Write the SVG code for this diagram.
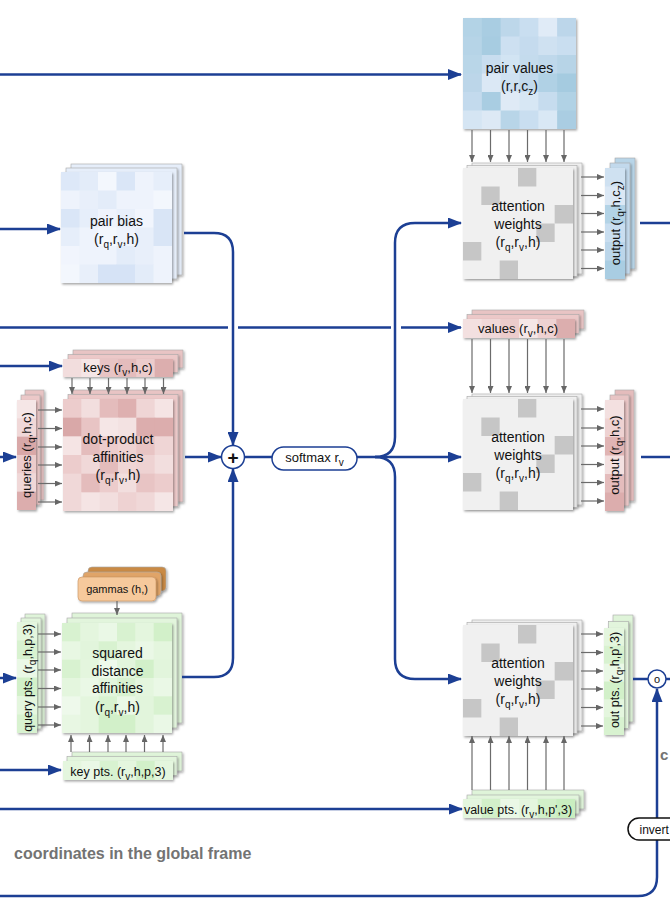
<svg xmlns="http://www.w3.org/2000/svg" width="670" height="906" viewBox="0 0 670 906">
<style>
.t{font-family:"Liberation Sans",Arial,sans-serif;fill:#111;text-anchor:middle}
.s{font-size:10px}
.bl{fill:none;stroke:#1c3f94;stroke-width:2.5;marker-end:url(#ba)}
.bn{fill:none;stroke:#1c3f94;stroke-width:2.5}
.ga{stroke:#6b6b6b;stroke-width:1.2;marker-end:url(#ga)}
.bk{stroke:#a8a8a8;stroke-width:0.6;filter:url(#sh)}
.fr{filter:url(#sh)}
</style>
<defs>
<marker id="ba" viewBox="0 0 14 11" refX="13" refY="5.5" markerWidth="14" markerHeight="11" markerUnits="userSpaceOnUse" orient="auto"><path d="M0,0L14,5.5L0,11z" fill="#1c3f94"/></marker>
<marker id="ga" viewBox="0 0 7 6" refX="7" refY="3" markerWidth="7" markerHeight="6" markerUnits="userSpaceOnUse" orient="auto"><path d="M0,0L7,3L0,6z" fill="#666"/></marker>
<filter id="sh" x="-30%" y="-30%" width="160%" height="160%"><feDropShadow dx="1.2" dy="1.5" stdDeviation="1.2" flood-color="#000" flood-opacity="0.35"/></filter>
<g id="aw">
<rect class="bk" x="9" y="-5" width="110" height="111" fill="#f0f0f0"/>
<rect class="bk" x="4" y="-2.5" width="110" height="111" fill="#f0f0f0"/>
<rect class="fr" x="0" y="0" width="110" height="111" fill="#f0f0f0"/>
<g transform="scale(18.333,18.5)" fill="#c6c6c6"><rect x="3" y="0" width="1" height="1"/><rect x="1" y="1" width="1" height="1"/><rect x="5" y="2" width="1" height="1"/><rect x="4" y="3" width="1" height="1"/><rect x="0" y="4" width="1" height="1"/><rect x="2" y="5" width="1" height="1"/></g>
</g>
</defs>
<rect width="670" height="906" fill="#fff"/>

<g id="pair-values">
<rect class="fr" x="463" y="18" width="113" height="111" fill="#c6dced"/>
<g transform="translate(463,18) scale(18.833,18.5)">
<rect x="0" y="0" width="1.03" height="1.03" fill="#b3d3e6"/><rect x="1" y="0" width="1.03" height="1.03" fill="#a9cde2"/><rect x="2" y="0" width="1.03" height="1.03" fill="#bdd7ea"/><rect x="3" y="0" width="1.03" height="1.03" fill="#c9def0"/><rect x="4" y="0" width="1.03" height="1.03" fill="#e0ebf7"/><rect x="5" y="0" width="1" height="1.03" fill="#bcd6ea"/>
<rect x="0" y="1" width="1.03" height="1.03" fill="#b6d4e7"/><rect x="1" y="1" width="1.03" height="1.03" fill="#a7cce1"/><rect x="2" y="1" width="1.03" height="1.03" fill="#cde0f1"/><rect x="3" y="1" width="1.03" height="1.03" fill="#c5dbee"/><rect x="4" y="1" width="1.03" height="1.03" fill="#cfe1f1"/><rect x="5" y="1" width="1" height="1.03" fill="#c9def0"/>
<rect x="0" y="2" width="1.03" height="1.03" fill="#b9d6e8"/><rect x="1" y="2" width="1.03" height="1.03" fill="#c8ddef"/><rect x="2" y="2" width="1.03" height="1.03" fill="#d2e4f3"/><rect x="3" y="2" width="1.03" height="1.03" fill="#c4dbed"/><rect x="4" y="2" width="1.03" height="1.03" fill="#bfd8eb"/><rect x="5" y="2" width="1" height="1.03" fill="#b7d4e7"/>
<rect x="0" y="3" width="1.03" height="1.03" fill="#bcd6e9"/><rect x="1" y="3" width="1.03" height="1.03" fill="#dbe8f5"/><rect x="2" y="3" width="1.03" height="1.03" fill="#cfe1f1"/><rect x="3" y="3" width="1.03" height="1.03" fill="#c2d9ec"/><rect x="4" y="3" width="1.03" height="1.03" fill="#b0d1e5"/><rect x="5" y="3" width="1" height="1.03" fill="#a5cbe0"/>
<rect x="0" y="4" width="1.03" height="1.03" fill="#c3daed"/><rect x="1" y="4" width="1.03" height="1.03" fill="#a9cde2"/><rect x="2" y="4" width="1.03" height="1.03" fill="#dfeaf6"/><rect x="3" y="4" width="1.03" height="1.03" fill="#d7e7f4"/><rect x="4" y="4" width="1.03" height="1.03" fill="#c6dcee"/><rect x="5" y="4" width="1" height="1.03" fill="#b1d2e5"/>
<rect x="0" y="5" width="1.03" height="1" fill="#d5e5f3"/><rect x="1" y="5" width="1.03" height="1" fill="#dde9f5"/><rect x="2" y="5" width="1.03" height="1" fill="#b8d5e8"/><rect x="3" y="5" width="1.03" height="1" fill="#c9def0"/><rect x="4" y="5" width="1.03" height="1" fill="#d9e8f5"/><rect x="5" y="5" width="1" height="1" fill="#aacde2"/>
</g>
<text class="t" font-size="14" x="519.5" y="72.5">pair values</text>
<text class="t" font-size="14" x="519.5" y="90.5">(r,r,c<tspan class="s" dy="4">z</tspan><tspan dy="-4">)</tspan></text>
</g>

<g id="pair-bias">
<rect class="bk" x="71" y="164" width="111" height="111" fill="#e6eefa"/>
<rect class="bk" x="66" y="168" width="111" height="111" fill="#e6eefa"/>
<rect class="fr" x="61" y="172" width="111" height="111" fill="#e8effa"/>
<g transform="translate(61,172) scale(18.5,18.5)">
<rect x="0" y="0" width="1.03" height="1.03" fill="#dde8f8"/><rect x="1" y="0" width="1.03" height="1.03" fill="#e3ecf9"/><rect x="2" y="0" width="1.03" height="1.03" fill="#f3f7fd"/><rect x="3" y="0" width="1.03" height="1.03" fill="#dae6f7"/><rect x="4" y="0" width="1.03" height="1.03" fill="#eef3fc"/><rect x="5" y="0" width="1" height="1.03" fill="#e6eefa"/>
<rect x="0" y="1" width="1.03" height="1.03" fill="#eef3fc"/><rect x="1" y="1" width="1.03" height="1.03" fill="#e8effa"/><rect x="2" y="1" width="1.03" height="1.03" fill="#e3ecf9"/><rect x="3" y="1" width="1.03" height="1.03" fill="#eef3fc"/><rect x="4" y="1" width="1.03" height="1.03" fill="#eef3fc"/><rect x="5" y="1" width="1" height="1.03" fill="#f3f7fd"/>
<rect x="0" y="2" width="1.03" height="1.03" fill="#dae6f7"/><rect x="1" y="2" width="1.03" height="1.03" fill="#e6eefa"/><rect x="2" y="2" width="1.03" height="1.03" fill="#eef3fc"/><rect x="3" y="2" width="1.03" height="1.03" fill="#e8effa"/><rect x="4" y="2" width="1.03" height="1.03" fill="#f1f5fd"/><rect x="5" y="2" width="1" height="1.03" fill="#d9e5f6"/>
<rect x="0" y="3" width="1.03" height="1.03" fill="#e6eefa"/><rect x="1" y="3" width="1.03" height="1.03" fill="#eef3fc"/><rect x="2" y="3" width="1.03" height="1.03" fill="#f3f7fd"/><rect x="3" y="3" width="1.03" height="1.03" fill="#eef3fc"/><rect x="4" y="3" width="1.03" height="1.03" fill="#e8effa"/><rect x="5" y="3" width="1" height="1.03" fill="#d9e5f6"/>
<rect x="0" y="4" width="1.03" height="1.03" fill="#f1f5fd"/><rect x="1" y="4" width="1.03" height="1.03" fill="#eef3fc"/><rect x="2" y="4" width="1.03" height="1.03" fill="#eef3fc"/><rect x="3" y="4" width="1.03" height="1.03" fill="#e3ecf9"/><rect x="4" y="4" width="1.03" height="1.03" fill="#e8effa"/><rect x="5" y="4" width="1" height="1.03" fill="#eef3fc"/>
<rect x="0" y="5" width="1.03" height="1" fill="#f3f7fd"/><rect x="1" y="5" width="1.03" height="1" fill="#e8effa"/><rect x="2" y="5" width="1.03" height="1" fill="#d6e3f6"/><rect x="3" y="5" width="1.03" height="1" fill="#d6e3f6"/><rect x="4" y="5" width="1.03" height="1" fill="#e3ecf9"/><rect x="5" y="5" width="1" height="1" fill="#eef3fc"/>
</g>
<text class="t" font-size="14" x="116.5" y="226">pair bias</text>
<text class="t" font-size="14" x="116.5" y="244">(r<tspan class="s" dy="4">q</tspan><tspan dy="-4">,r</tspan><tspan class="s" dy="4">v</tspan><tspan dy="-4">,h)</tspan></text>
</g>

<g id="keys">
<rect class="bk" x="73" y="350" width="110" height="18" fill="#e8c4c4"/>
<rect class="bk" x="68" y="354.5" width="110" height="18" fill="#ecc8c8"/>
<rect class="fr" x="63" y="359" width="110" height="18" fill="#f0d8d8"/>
<g transform="translate(63,359) scale(18.333,18)">
<rect x="0" y="0" width="1.03" height="1" fill="#f2dddd"/><rect x="1" y="0" width="1.03" height="1" fill="#f5e6e6"/><rect x="2" y="0" width="1.03" height="1" fill="#e8c4c4"/><rect x="3" y="0" width="1.03" height="1" fill="#e4bcbc"/><rect x="4" y="0" width="1.03" height="1" fill="#eccccc"/><rect x="5" y="0" width="1" height="1" fill="#dcaeae"/>
</g>
<text class="t" font-size="13" x="118" y="371.5">keys (r<tspan class="s" dy="4">v</tspan><tspan dy="-4">,h,c)</tspan></text>
</g>

<g id="dot-product-affinities">
<rect class="bk" x="73" y="390" width="110" height="112" fill="#e8c4c4"/>
<rect class="bk" x="68" y="394.5" width="110" height="112" fill="#ecc8c8"/>
<rect class="fr" x="63" y="399" width="110" height="112" fill="#eccccc"/>
<g transform="translate(63,399) scale(18.333,18.667)">
<rect x="0" y="0" width="1.03" height="1.03" fill="#eccccc"/><rect x="1" y="0" width="1.03" height="1.03" fill="#f2dede"/><rect x="2" y="0" width="1.03" height="1.03" fill="#e4bcbc"/><rect x="3" y="0" width="1.03" height="1.03" fill="#deb0b0"/><rect x="4" y="0" width="1.03" height="1.03" fill="#efd5d5"/><rect x="5" y="0" width="1" height="1.03" fill="#f5e4e4"/>
<rect x="0" y="1" width="1.03" height="1.03" fill="#d9a8a8"/><rect x="1" y="1" width="1.03" height="1.03" fill="#e8c4c4"/><rect x="2" y="1" width="1.03" height="1.03" fill="#f5e6e6"/><rect x="3" y="1" width="1.03" height="1.03" fill="#f3e2e2"/><rect x="4" y="1" width="1.03" height="1.03" fill="#dcadad"/><rect x="5" y="1" width="1" height="1.03" fill="#dcadad"/>
<rect x="0" y="2" width="1.03" height="1.03" fill="#f5e4e4"/><rect x="1" y="2" width="1.03" height="1.03" fill="#e4bcbc"/><rect x="2" y="2" width="1.03" height="1.03" fill="#eccccc"/><rect x="3" y="2" width="1.03" height="1.03" fill="#eed2d2"/><rect x="4" y="2" width="1.03" height="1.03" fill="#e8c4c4"/><rect x="5" y="2" width="1" height="1.03" fill="#efd5d5"/>
<rect x="0" y="3" width="1.03" height="1.03" fill="#eccccc"/><rect x="1" y="3" width="1.03" height="1.03" fill="#f0d8d8"/><rect x="2" y="3" width="1.03" height="1.03" fill="#e4bcbc"/><rect x="3" y="3" width="1.03" height="1.03" fill="#efd5d5"/><rect x="4" y="3" width="1.03" height="1.03" fill="#eed2d2"/><rect x="5" y="3" width="1" height="1.03" fill="#f2dede"/>
<rect x="0" y="4" width="1.03" height="1.03" fill="#f0d8d8"/><rect x="1" y="4" width="1.03" height="1.03" fill="#e4bcbc"/><rect x="2" y="4" width="1.03" height="1.03" fill="#eccccc"/><rect x="3" y="4" width="1.03" height="1.03" fill="#f2dede"/><rect x="4" y="4" width="1.03" height="1.03" fill="#e8c4c4"/><rect x="5" y="4" width="1" height="1.03" fill="#eccccc"/>
<rect x="0" y="5" width="1.03" height="1" fill="#f0d8d8"/><rect x="1" y="5" width="1.03" height="1" fill="#f5e4e4"/><rect x="2" y="5" width="1.03" height="1" fill="#f2dede"/><rect x="3" y="5" width="1.03" height="1" fill="#eed2d2"/><rect x="4" y="5" width="1.03" height="1" fill="#f0d8d8"/><rect x="5" y="5" width="1" height="1" fill="#f5e6e6"/>
</g>
<text class="t" font-size="14" x="118" y="444">dot-product</text>
<text class="t" font-size="14" x="118" y="462">affinities</text>
<text class="t" font-size="14" x="118" y="480">(r<tspan class="s" dy="4">q</tspan><tspan dy="-4">,r</tspan><tspan class="s" dy="4">v</tspan><tspan dy="-4">,h)</tspan></text>
</g>

<g id="queries">
<rect class="bk" x="25" y="390" width="19" height="110" fill="#e8c4c4"/>
<rect class="bk" x="21" y="395" width="19" height="110" fill="#ecc8c8"/>
<rect class="fr" x="17" y="400" width="19" height="110" fill="#f0d8d8"/>
<g transform="translate(17,400) scale(19,18.333)">
<rect x="0" y="0" width="1" height="1.03" fill="#f5e6e6"/><rect x="0" y="1" width="1" height="1.03" fill="#f0d8d8"/><rect x="0" y="2" width="1" height="1.03" fill="#d9a8a8"/><rect x="0" y="3" width="1" height="1.03" fill="#eccccc"/><rect x="0" y="4" width="1" height="1.03" fill="#f0d8d8"/><rect x="0" y="5" width="1" height="1" fill="#dcadad"/>
</g>
<text class="t" font-size="13" transform="translate(26.5,455) rotate(-90)" y="4.5">queries (r<tspan class="s" dy="4">q</tspan><tspan dy="-4">,h,c)</tspan></text>
</g>

<g id="gammas">
<rect class="bk" x="88" y="567" width="78" height="24" rx="4" fill="#c98a45"/>
<rect class="bk" x="83" y="572" width="78" height="24" rx="4" fill="#e0a468"/>
<rect class="fr" x="78" y="577" width="78" height="24" rx="4" fill="#f6c99c" stroke="#c89060" stroke-width="0.6"/>
<text class="t" font-size="11" x="117" y="593">gammas (h,)</text>
</g>

<g id="squared-distance-affinities">
<rect class="bk" x="72" y="613" width="110" height="110" fill="#dff4d9"/>
<rect class="bk" x="67" y="618" width="110" height="110" fill="#e2f5dc"/>
<rect class="fr" x="62" y="623" width="110" height="110" fill="#e4f6de"/>
<g transform="translate(62,623) scale(18.333,18.333)">
<rect x="0" y="0" width="1.03" height="1.03" fill="#d8f2d0"/><rect x="1" y="0" width="1.03" height="1.03" fill="#e4f6de"/><rect x="2" y="0" width="1.03" height="1.03" fill="#eaf8e6"/><rect x="3" y="0" width="1.03" height="1.03" fill="#d8f2d0"/><rect x="4" y="0" width="1.03" height="1.03" fill="#e4f6de"/><rect x="5" y="0" width="1" height="1.03" fill="#d2f0c9"/>
<rect x="0" y="1" width="1.03" height="1.03" fill="#e8f7e3"/><rect x="1" y="1" width="1.03" height="1.03" fill="#e2f5dc"/><rect x="2" y="1" width="1.03" height="1.03" fill="#d8f2d0"/><rect x="3" y="1" width="1.03" height="1.03" fill="#e4f6de"/><rect x="4" y="1" width="1.03" height="1.03" fill="#eaf8e6"/><rect x="5" y="1" width="1" height="1.03" fill="#e4f6de"/>
<rect x="0" y="2" width="1.03" height="1.03" fill="#d8f2d0"/><rect x="1" y="2" width="1.03" height="1.03" fill="#e4f6de"/><rect x="2" y="2" width="1.03" height="1.03" fill="#eef9eb"/><rect x="3" y="2" width="1.03" height="1.03" fill="#e2f5dc"/><rect x="4" y="2" width="1.03" height="1.03" fill="#d2f0c9"/><rect x="5" y="2" width="1" height="1.03" fill="#e2f5dc"/>
<rect x="0" y="3" width="1.03" height="1.03" fill="#e4f6de"/><rect x="1" y="3" width="1.03" height="1.03" fill="#eaf8e6"/><rect x="2" y="3" width="1.03" height="1.03" fill="#e2f5dc"/><rect x="3" y="3" width="1.03" height="1.03" fill="#d8f2d0"/><rect x="4" y="3" width="1.03" height="1.03" fill="#e4f6de"/><rect x="5" y="3" width="1" height="1.03" fill="#eaf8e6"/>
<rect x="0" y="4" width="1.03" height="1.03" fill="#eef9eb"/><rect x="1" y="4" width="1.03" height="1.03" fill="#e4f6de"/><rect x="2" y="4" width="1.03" height="1.03" fill="#d8f2d0"/><rect x="3" y="4" width="1.03" height="1.03" fill="#eaf8e6"/><rect x="4" y="4" width="1.03" height="1.03" fill="#e2f5dc"/><rect x="5" y="4" width="1" height="1.03" fill="#d8f2d0"/>
<rect x="0" y="5" width="1.03" height="1" fill="#e8f7e3"/><rect x="1" y="5" width="1.03" height="1" fill="#e4f6de"/><rect x="2" y="5" width="1.03" height="1" fill="#d2f0c9"/><rect x="3" y="5" width="1.03" height="1" fill="#d2f0c9"/><rect x="4" y="5" width="1.03" height="1" fill="#e2f5dc"/><rect x="5" y="5" width="1" height="1" fill="#eaf8e6"/>
</g>
<text class="t" font-size="14" x="117.5" y="658">squared</text>
<text class="t" font-size="14" x="117.5" y="675.5">distance</text>
<text class="t" font-size="14" x="117.5" y="693">affinities</text>
<text class="t" font-size="14" x="117.5" y="711.5">(r<tspan class="s" dy="4">q</tspan><tspan dy="-4">,r</tspan><tspan class="s" dy="4">v</tspan><tspan dy="-4">,h)</tspan></text>
</g>

<g id="query-pts">
<rect class="bk" x="25" y="614" width="20" height="111" fill="#dff4d9"/>
<rect class="bk" x="21" y="618" width="20" height="111" fill="#e2f5dc"/>
<rect class="fr" x="17" y="622" width="20" height="111" fill="#e4f6de"/>
<g transform="translate(17,622) scale(20,18.5)">
<rect x="0" y="0" width="1" height="1.03" fill="#e4f6de"/><rect x="0" y="1" width="1" height="1.03" fill="#d8f2d0"/><rect x="0" y="2" width="1" height="1.03" fill="#eaf8e6"/><rect x="0" y="3" width="1" height="1.03" fill="#d2f0c9"/><rect x="0" y="4" width="1" height="1.03" fill="#e4f6de"/><rect x="0" y="5" width="1" height="1" fill="#d8f2d0"/>
</g>
<text class="t" font-size="12.5" transform="translate(27,678) rotate(-90)" y="4.5">query pts. (r<tspan class="s" dy="4">q</tspan><tspan dy="-4">,h,p,3)</tspan></text>
</g>

<g id="key-pts">
<rect class="bk" x="72" y="752" width="110" height="19" fill="#dff4d9"/>
<rect class="bk" x="67" y="756.5" width="110" height="19" fill="#e2f5dc"/>
<rect class="fr" x="63" y="761" width="110" height="19" fill="#e4f6de"/>
<g transform="translate(63,761) scale(18.333,19)">
<rect x="0" y="0" width="1.03" height="1" fill="#e4f6de"/><rect x="1" y="0" width="1.03" height="1" fill="#eaf8e6"/><rect x="2" y="0" width="1.03" height="1" fill="#d8f2d0"/><rect x="3" y="0" width="1.03" height="1" fill="#e4f6de"/><rect x="4" y="0" width="1.03" height="1" fill="#d2f0c9"/><rect x="5" y="0" width="1" height="1" fill="#e4f6de"/>
</g>
<text class="t" font-size="12.5" x="118" y="775.5">key pts. (r<tspan class="s" dy="4">v</tspan><tspan dy="-4">,h,p,3)</tspan></text>
</g>

<g id="attention-weights-1">
<use href="#aw" x="463" y="168"/>
<text class="t" font-size="14" x="518" y="211">attention</text>
<text class="t" font-size="14" x="518" y="229">weights</text>
<text class="t" font-size="14" x="518" y="247">(r<tspan class="s" dy="4">q</tspan><tspan dy="-4">,r</tspan><tspan class="s" dy="4">v</tspan><tspan dy="-4">,h)</tspan></text>
</g>

<g id="attention-weights-2">
<use href="#aw" x="463" y="399"/>
<text class="t" font-size="14" x="518" y="442">attention</text>
<text class="t" font-size="14" x="518" y="460">weights</text>
<text class="t" font-size="14" x="518" y="478">(r<tspan class="s" dy="4">q</tspan><tspan dy="-4">,r</tspan><tspan class="s" dy="4">v</tspan><tspan dy="-4">,h)</tspan></text>
</g>

<g id="attention-weights-3">
<use href="#aw" x="463" y="625"/>
<text class="t" font-size="14" x="518" y="668">attention</text>
<text class="t" font-size="14" x="518" y="686">weights</text>
<text class="t" font-size="14" x="518" y="704">(r<tspan class="s" dy="4">q</tspan><tspan dy="-4">,r</tspan><tspan class="s" dy="4">v</tspan><tspan dy="-4">,h)</tspan></text>
</g>

<g id="output-pair">
<rect class="bk" x="615" y="158" width="20" height="111" fill="#b8d5e8"/>
<rect class="bk" x="610" y="163" width="20" height="111" fill="#c2d9ec"/>
<rect class="fr" x="605" y="168" width="20" height="111" fill="#c6dced"/>
<g transform="translate(605,168) scale(20,18.5)">
<rect x="0" y="0" width="1" height="1.03" fill="#cfe1f1"/><rect x="0" y="1" width="1" height="1.03" fill="#dbe8f5"/><rect x="0" y="2" width="1" height="1.03" fill="#b3d3e6"/><rect x="0" y="3" width="1" height="1.03" fill="#c9def0"/><rect x="0" y="4" width="1" height="1.03" fill="#bcd6ea"/><rect x="0" y="5" width="1" height="1" fill="#a9cde2"/>
</g>
<text class="t" font-size="13" transform="translate(615,223) rotate(-90)" y="4.5">output (r<tspan class="s" dy="4">q</tspan><tspan dy="-4">,h,c</tspan><tspan class="s" dy="4">z</tspan><tspan dy="-4">)</tspan></text>
</g>

<g id="values">
<rect class="bk" x="472" y="310" width="112" height="19" fill="#e8c4c4"/>
<rect class="bk" x="467" y="314.5" width="112" height="19" fill="#ecc8c8"/>
<rect class="fr" x="463" y="319" width="112" height="19" fill="#f0d8d8"/>
<g transform="translate(463,319) scale(18.667,19)">
<rect x="0" y="0" width="1.03" height="1" fill="#f3e0e0"/><rect x="1" y="0" width="1.03" height="1" fill="#f0d8d8"/><rect x="2" y="0" width="1.03" height="1" fill="#eccccc"/><rect x="3" y="0" width="1.03" height="1" fill="#f5e6e6"/><rect x="4" y="0" width="1.03" height="1" fill="#eed2d2"/><rect x="5" y="0" width="1" height="1" fill="#dcaeae"/>
</g>
<text class="t" font-size="13" x="518" y="332.5">values (r<tspan class="s" dy="4">v</tspan><tspan dy="-4">,h,c)</tspan></text>
</g>

<g id="output-single">
<rect class="bk" x="615" y="390" width="19" height="111" fill="#e4bcbc"/>
<rect class="bk" x="610" y="395" width="19" height="111" fill="#e8c4c4"/>
<rect class="fr" x="605" y="400" width="19" height="111" fill="#eccccc"/>
<g transform="translate(605,400) scale(19,18.5)">
<rect x="0" y="0" width="1" height="1.03" fill="#f3e0e0"/><rect x="0" y="1" width="1" height="1.03" fill="#eed2d2"/><rect x="0" y="2" width="1" height="1.03" fill="#e0b4b4"/><rect x="0" y="3" width="1" height="1.03" fill="#f3e0e0"/><rect x="0" y="4" width="1" height="1.03" fill="#e4bcbc"/><rect x="0" y="5" width="1" height="1" fill="#dcadad"/>
</g>
<text class="t" font-size="13" transform="translate(614.5,455) rotate(-90)" y="4.5">output (r<tspan class="s" dy="4">q</tspan><tspan dy="-4">,h,c)</tspan></text>
</g>

<g id="out-pts">
<rect class="bk" x="613" y="615" width="20" height="107" fill="#dff4d9"/>
<rect class="bk" x="608.5" y="621.5" width="20" height="107" fill="#e2f5dc"/>
<rect class="fr" x="604" y="628" width="20" height="107" fill="#e4f6de"/>
<g transform="translate(604,628) scale(20,17.833)">
<rect x="0" y="0" width="1" height="1.03" fill="#e4f6de"/><rect x="0" y="1" width="1" height="1.03" fill="#d8f2d0"/><rect x="0" y="2" width="1" height="1.03" fill="#eaf8e6"/><rect x="0" y="3" width="1" height="1.03" fill="#d2f0c9"/><rect x="0" y="4" width="1" height="1.03" fill="#e4f6de"/><rect x="0" y="5" width="1" height="1" fill="#d8f2d0"/>
</g>
<text class="t" font-size="12.5" transform="translate(614,680) rotate(-90)" y="4.5">out pts. (r<tspan class="s" dy="4">q</tspan><tspan dy="-4">,h,p',3)</tspan></text>
</g>

<g id="value-pts">
<rect class="bk" x="472" y="790" width="112" height="19" fill="#dff4d9"/>
<rect class="bk" x="467" y="795" width="112" height="19" fill="#e2f5dc"/>
<rect class="fr" x="463" y="799" width="112" height="19" fill="#e4f6de"/>
<g transform="translate(463,799) scale(18.667,19)">
<rect x="0" y="0" width="1.03" height="1" fill="#e4f6de"/><rect x="1" y="0" width="1.03" height="1" fill="#d2f0c9"/><rect x="2" y="0" width="1.03" height="1" fill="#eaf8e6"/><rect x="3" y="0" width="1.03" height="1" fill="#e4f6de"/><rect x="4" y="0" width="1.03" height="1" fill="#d2f0c9"/><rect x="5" y="0" width="1" height="1" fill="#c9eec0"/>
</g>
<text class="t" font-size="12.5" x="518" y="813.5">value pts. (r<tspan class="s" dy="4">v</tspan><tspan dy="-4">,h,p',3)</tspan></text>
</g>

<g id="connectors">
<g>
<line class="ga" x1="472" y1="130" x2="472" y2="162"/><line class="ga" x1="490.5" y1="130" x2="490.5" y2="162"/><line class="ga" x1="509" y1="130" x2="509" y2="162"/><line class="ga" x1="527.5" y1="130" x2="527.5" y2="162"/><line class="ga" x1="546" y1="130" x2="546" y2="162"/><line class="ga" x1="564" y1="130" x2="564" y2="162"/>
<line class="ga" x1="472" y1="339" x2="472" y2="393"/><line class="ga" x1="490.5" y1="339" x2="490.5" y2="393"/><line class="ga" x1="509" y1="339" x2="509" y2="393"/><line class="ga" x1="527.5" y1="339" x2="527.5" y2="393"/><line class="ga" x1="546" y1="339" x2="546" y2="393"/><line class="ga" x1="564" y1="339" x2="564" y2="393"/>
<line class="ga" x1="472" y1="790" x2="472" y2="736"/><line class="ga" x1="490.5" y1="790" x2="490.5" y2="736"/><line class="ga" x1="509" y1="790" x2="509" y2="736"/><line class="ga" x1="527.5" y1="790" x2="527.5" y2="736"/><line class="ga" x1="546" y1="790" x2="546" y2="736"/><line class="ga" x1="564" y1="790" x2="564" y2="736"/>
<line class="ga" x1="72" y1="378" x2="72" y2="394"/><line class="ga" x1="90" y1="378" x2="90" y2="394"/><line class="ga" x1="108.5" y1="378" x2="108.5" y2="394"/><line class="ga" x1="127" y1="378" x2="127" y2="394"/><line class="ga" x1="145" y1="378" x2="145" y2="394"/><line class="ga" x1="163.5" y1="378" x2="163.5" y2="394"/>
<line class="ga" x1="71" y1="752" x2="71" y2="735"/><line class="ga" x1="89.5" y1="752" x2="89.5" y2="735"/><line class="ga" x1="108" y1="752" x2="108" y2="735"/><line class="ga" x1="126" y1="752" x2="126" y2="735"/><line class="ga" x1="144.5" y1="752" x2="144.5" y2="735"/><line class="ga" x1="163" y1="752" x2="163" y2="735"/>
<line class="ga" x1="38" y1="410" x2="62" y2="410"/><line class="ga" x1="38" y1="428.5" x2="62" y2="428.5"/><line class="ga" x1="38" y1="447" x2="62" y2="447"/><line class="ga" x1="38" y1="465" x2="62" y2="465"/><line class="ga" x1="38" y1="483.5" x2="62" y2="483.5"/><line class="ga" x1="38" y1="502" x2="62" y2="502"/>
<line class="ga" x1="38" y1="634" x2="61" y2="634"/><line class="ga" x1="38" y1="652" x2="61" y2="652"/><line class="ga" x1="38" y1="670" x2="61" y2="670"/><line class="ga" x1="38" y1="688.5" x2="61" y2="688.5"/><line class="ga" x1="38" y1="707" x2="61" y2="707"/><line class="ga" x1="38" y1="725" x2="61" y2="725"/>
<line class="ga" x1="581" y1="177" x2="604" y2="177"/><line class="ga" x1="581" y1="195.5" x2="604" y2="195.5"/><line class="ga" x1="581" y1="213.5" x2="604" y2="213.5"/><line class="ga" x1="581" y1="232" x2="604" y2="232"/><line class="ga" x1="581" y1="250" x2="604" y2="250"/><line class="ga" x1="581" y1="268.5" x2="604" y2="268.5"/>
<line class="ga" x1="581" y1="409" x2="604" y2="409"/><line class="ga" x1="581" y1="428" x2="604" y2="428"/><line class="ga" x1="581" y1="446" x2="604" y2="446"/><line class="ga" x1="581" y1="464.5" x2="604" y2="464.5"/><line class="ga" x1="581" y1="482.5" x2="604" y2="482.5"/><line class="ga" x1="581" y1="501" x2="604" y2="501"/>
<line class="ga" x1="581" y1="634" x2="603" y2="634"/><line class="ga" x1="581" y1="652.5" x2="603" y2="652.5"/><line class="ga" x1="581" y1="671" x2="603" y2="671"/><line class="ga" x1="581" y1="689" x2="603" y2="689"/><line class="ga" x1="581" y1="707.5" x2="603" y2="707.5"/><line class="ga" x1="581" y1="726" x2="603" y2="726"/>
<line class="ga" x1="117" y1="601" x2="117" y2="615"/>
</g>
<path class="bl" d="M0,74.5H461"/>
<path class="bl" d="M0,229H60"/>
<path class="bl" d="M0,327.5H228M238,327.5H391M401,327.5H461"/>
<path class="bl" d="M0,366H62"/>
<path class="bl" d="M0,457H16"/>
<path class="bl" d="M185,457H221"/>
<path class="bl" d="M184,233H214Q233,233 233,252V445"/>
<path class="bl" d="M182,677H214Q233,677 233,658V469"/>
<path class="bn" d="M245,457H272"/>
<path class="bl" d="M357,457H461"/>
<path class="bl" d="M375,457Q395,457 395,437V243Q395,223 415,223H461"/>
<path class="bl" d="M375,457Q395,457 395,477V659Q395,679 415,679H461"/>
<path class="bl" d="M0,678H16"/>
<path class="bl" d="M0,770H61"/>
<path class="bl" d="M0,809H462"/>
<path class="bn" d="M640,223H670"/>
<path class="bn" d="M641,457H670"/>
<path class="bn" d="M633,679H648M666,679H670"/>
<path class="bl" d="M657,818V689"/>
<path class="bn" d="M0,896H638Q657,896 657,877V840"/>
</g>

<g id="plus">
<circle cx="233" cy="457" r="11.5" fill="#fff" stroke="#1c3f94" stroke-width="1.5"/>
<text class="t" font-size="19" font-weight="bold" x="233" y="463.5">+</text>
</g>

<g id="softmax">
<rect x="272" y="447" width="85" height="23" rx="11.5" fill="#fff" stroke="#1c3f94" stroke-width="1.5"/>
<text class="t" font-size="13" x="314.5" y="462">softmax r<tspan class="s" dy="4">v</tspan></text>
</g>

<g id="compose">
<circle cx="657" cy="679" r="9" fill="#fff" stroke="#1c3f94" stroke-width="1.5"/>
<text class="t" font-size="11" x="657" y="682.5">o</text>
</g>

<g id="invert">
<rect x="628" y="818" width="70" height="22" rx="11" fill="#fff" stroke="#111" stroke-width="1.5"/>
<text class="t" font-size="12" x="639.5" y="833.5" style="text-anchor:start">invert</text>
</g>

<g id="labels">
<text class="t" font-size="16" font-weight="bold" x="14" y="859" style="text-anchor:start;fill:#737373">coordinates in the global frame</text>
<text class="t" font-size="15" font-weight="bold" x="660" y="760" style="text-anchor:start;fill:#737373">c</text>
</g>
</svg>
